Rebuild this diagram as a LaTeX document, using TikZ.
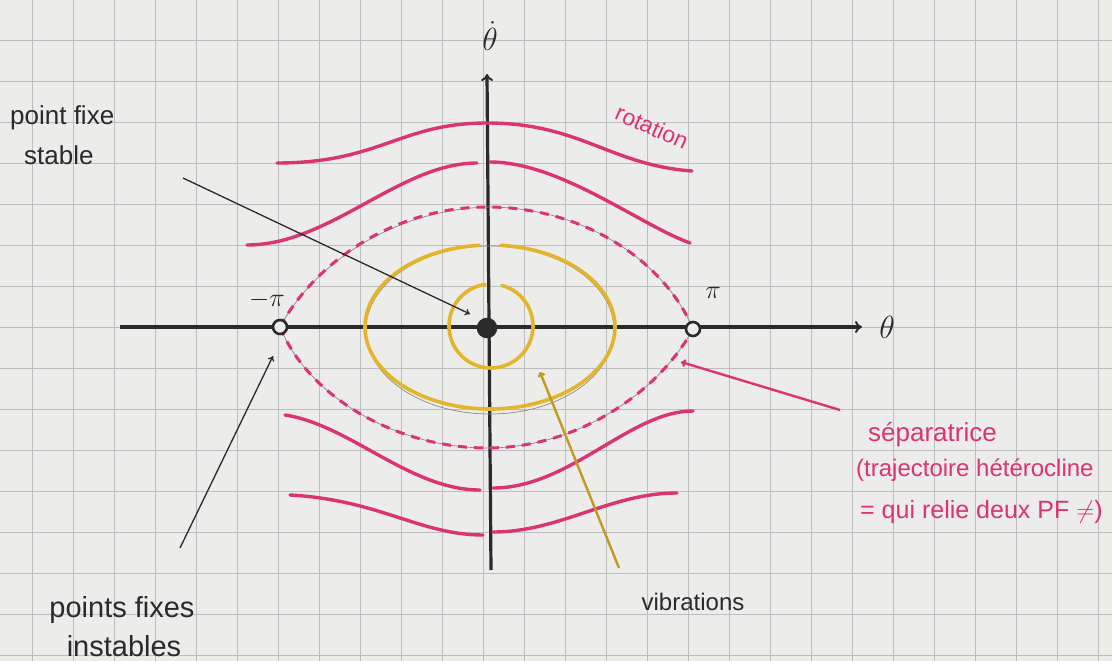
\RequirePackage{fix-cm}
\documentclass[tikz,border=0pt]{standalone}
\usepackage{fontspec}
\setmainfont{Liberation Sans}
\usetikzlibrary{arrows.meta}
\definecolor{paper}{HTML}{ECECEA}
\definecolor{gridc}{HTML}{BDBDBD}
\definecolor{rose}{HTML}{DC3470}
\definecolor{jaune}{HTML}{E3B52A}
\definecolor{ink}{HTML}{2A2A2A}
\definecolor{pencil}{HTML}{8A8A8A}
\begin{document}
\begin{tikzpicture}[x=1pt,y=-1pt,
  gridline/.style={draw=gridc,line width=0.8pt},
  axisline/.style={draw=ink,line width=3.2pt,-{To[length=7pt,width=12pt,line width=2pt]}},
  rot/.style={draw=rose,line width=3.4pt,line cap=round},
  sepa/.style={draw=rose,line width=3pt,dash pattern=on 9pt off 7pt},
  pencilline/.style={draw=pencil,line width=0.7pt},
  vib/.style={draw=jaune,line width=3.6pt,line cap=round},
  note/.style={draw=ink,line width=1.3pt,-{To[length=5pt,width=7pt]}},
  handtext/.style={text=ink,inner sep=0pt},
  rosetext/.style={text=rose,inner sep=0pt},
  fpunstable/.style={circle,draw=ink,line width=2.6pt,fill=paper,minimum size=14pt,inner sep=0pt},
  fpstable/.style={circle,draw=ink,line width=1.5pt,fill=ink,minimum size=19pt,inner sep=0pt}
]
\useasboundingbox (0,0) rectangle (1112,661);
\fill[paper] (0,0) rectangle (1112,661);
% grid paper
\foreach \i in {0,...,27} { \draw[gridline] ({-9+41*\i},0) -- ({-9+41*\i},661); }
\foreach \j in {0,...,16} { \draw[gridline] (0,{-1+41*\j}) -- (1112,{-1+41*\j}); }

% axes
\coordinate (xs) at (120,327);
\coordinate (xe) at (862,327);
\coordinate (ys) at (491,570);
\coordinate (ye) at (487,74);
\draw[axisline] (xs) -- (xe);
\draw[axisline] (ys) -- (ye);
\node[font=\fontsize{32}{36}\selectfont,text=ink,inner sep=0pt] (thx) at (887,327) {$\theta$};
\node[font=\fontsize{32}{36}\selectfont,text=ink,inner sep=0pt] (thy) at (490,36) {$\dot\theta$};

% pencil traces
\draw[pencilline] (280,327) .. controls (315,262) and (395,210) .. (487,207) .. controls (585,207) and (665,262) .. (693,329);
\draw[pencilline] (280,327) .. controls (310,400) and (400,448) .. (487,448) .. controls (580,448) and (660,390) .. (693,329);
\draw[pencilline] (490,330) ellipse[x radius=124,y radius=84];

% rotation curves (top)
\draw[rot] (277,163) .. controls (380,163) and (400,123) .. (487,123) .. controls (580,123) and (610,165) .. (692,171);
\draw[rot] (247,245) .. controls (330,245) and (400,163) .. (477,163);
\draw[rot] (490,162) .. controls (560,162) and (640,225) .. (690,243);
% rotation curves (bottom)
\draw[rot] (285,415) .. controls (350,425) and (410,490) .. (480,490);
\draw[rot] (493,488) .. controls (570,488) and (630,411) .. (693,411);
\draw[rot] (290,495) .. controls (380,500) and (420,535) .. (483,535);
\draw[rot] (493,532) .. controls (560,532) and (610,493) .. (677,493);

% separatrix (dashed)
\draw[sepa] (280,327) .. controls (315,262) and (395,207) .. (487,207) .. controls (585,207) and (665,262) .. (693,329);
\draw[sepa] (280,327) .. controls (310,400) and (400,448) .. (487,448) .. controls (580,448) and (660,390) .. (693,329);

% vibrations
\draw[vib] (490,327) ++(-85:125 and 82) arc[start angle=-85,end angle=265,x radius=125,y radius=82];
\draw[vib] (491,326) ++(-75:42) arc[start angle=-75,end angle=262,radius=42];

% fixed points
\node[fpunstable] (mpi) at (280,327) {};
\node[fpunstable] (ppi) at (693,329) {};
\node[fpstable] (orig) at (487,328) {};
\node[font=\fontsize{26}{30}\selectfont,text=ink,inner sep=0pt] (lmpi) at (267,300) {$-\pi$};
\node[font=\fontsize{26}{30}\selectfont,text=ink,inner sep=0pt] (lppi) at (713,293) {$\pi$};

% annotations
\node[handtext,font=\fontsize{26}{30}\selectfont,anchor=west] (pfs1) at (10,118) {point fixe};
\node[handtext,font=\fontsize{26}{30}\selectfont,anchor=west] (pfs2) at (24,155) {stable};
\coordinate (a1s) at (183,178);
\coordinate (a1e) at (470,314);
\draw[note] (a1s) -- (a1e);

\node[handtext,font=\fontsize{29}{33}\selectfont] (pfi1) at (122,610) {points fixes};
\node[handtext,font=\fontsize{29}{33}\selectfont] (pfi2) at (124,646) {instables};
\coordinate (a2s) at (180,548);
\coordinate (a2e) at (273,356);
\draw[note] (a2s) -- (a2e);

\node[rosetext,font=\fontsize{23}{27}\selectfont,rotate=-24] (rotl) at (652,127) {rotation};

\node[rosetext,font=\fontsize{26}{30}\selectfont,anchor=west] (sep1) at (868,435) {séparatrice};
\node[rosetext,font=\fontsize{24}{28}\selectfont,anchor=west] (sep2) at (856,470) {(trajectoire hétérocline};
\node[rosetext,font=\fontsize{25}{29}\selectfont,anchor=west] (sep3) at (860,512) {= qui relie deux PF $\neq$)};
\coordinate (a3s) at (840,410);
\coordinate (a3e) at (681,362);
\draw[draw=rose,line width=2.4pt,-{To[length=5pt,width=8pt]}] (a3s) -- (a3e);

\node[handtext,font=\fontsize{24}{28}\selectfont] (vibl) at (693,602) {vibrations};
\coordinate (a4s) at (619,568);
\coordinate (a4e) at (540,372);
\draw[draw=jaune!85!black,line width=2.4pt,-{To[length=5pt,width=8pt]}] (a4s) -- (a4e);
\end{tikzpicture}
\end{document}
